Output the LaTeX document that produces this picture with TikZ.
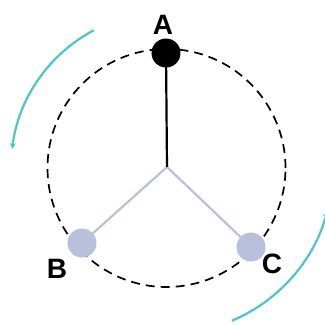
\documentclass[tikz,border=0pt]{standalone}
\usepackage{fontspec}
\setmainfont{Liberation Sans}
\usetikzlibrary{arrows.meta,backgrounds}
\definecolor{lav}{RGB}{184,192,220}
\definecolor{tealc}{RGB}{80,196,200}
\tikzset{
  ball/.style={circle,inner sep=0pt,minimum size=29pt},
  lbl/.style={font=\fontsize{28}{28}\selectfont\bfseries,inner sep=0pt},
  rotarrow/.style={tealc,line width=2.2pt,-{Stealth[length=6pt,width=6pt]}},
}
\begin{document}
\begin{tikzpicture}[x=1pt,y=1pt]
\useasboundingbox (0,0) rectangle (325,325);
\coordinate (o) at (167,158);
\node[ball,fill=black] (a) at (166,272) {};
\node[ball,fill=lav] (b) at (82,82) {};
\node[ball,fill=lav] (c) at (251,78) {};
\begin{scope}[on background layer]
\fill[white] (0,0) rectangle (325,325);
\draw[line width=1.7pt,dash pattern=on 9pt off 6pt] (166.5,157) circle (119);
\draw[line width=2.2pt,lav] (o) -- (b.center);
\draw[line width=2.2pt,lav] (o) -- (c.center);
\draw[line width=2.2pt,black] (o) -- (a.center);
\end{scope}
\node[lbl] (la) at (163,300) {A};
\node[lbl] (lb) at (57,56) {B};
\node[lbl] (lc) at (272,61) {C};
\draw[rotarrow] (167,157) ++(118:156) arc[start angle=118,end angle=173,radius=156];
\draw[rotarrow] (167,157) ++(-67:166) arc[start angle=-67,end angle=-15,radius=166];
\end{tikzpicture}
\end{document}
